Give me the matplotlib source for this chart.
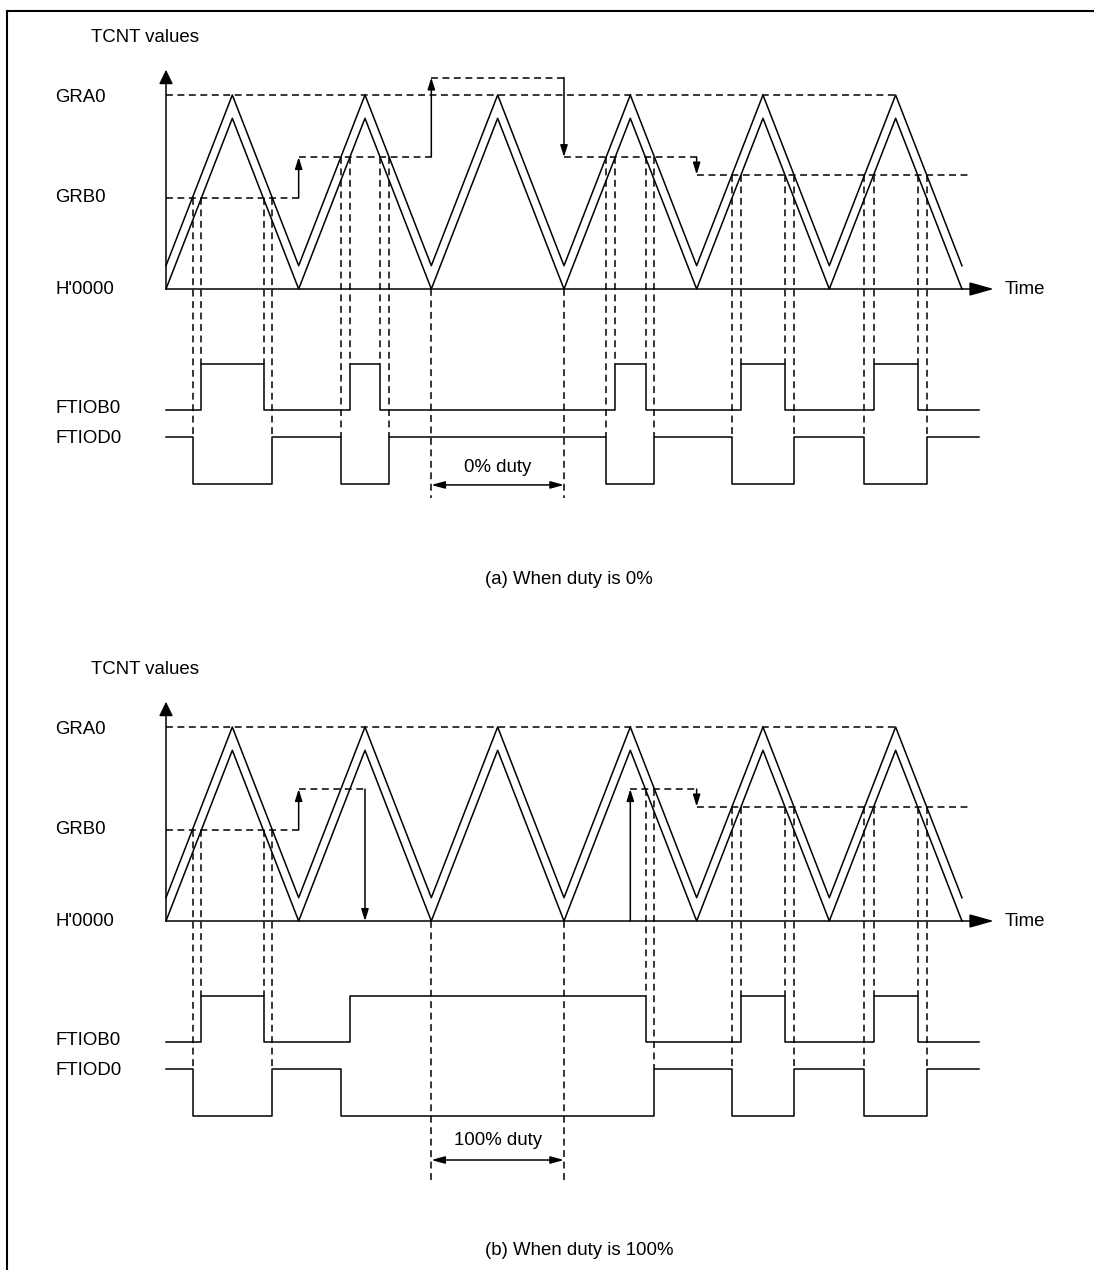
import matplotlib
matplotlib.use("Agg")
import matplotlib.pyplot as plt
from matplotlib.lines import Line2D

plt.rcParams['font.family'] = ['Liberation Sans', 'DejaVu Sans']

# ---- data (x in half periods of the counter, y in units of GRA0) ----
tcnt_x = [0, 1, 2, 3, 4, 5, 6, 7, 8, 9, 10, 11, 12]
tcnt_low = [0, 0.88, 0, 0.88, 0, 0.88, 0, 0.88, 0, 0.88, 0, 0.88, 0]
dead_time = 0.12   # offset of the second counter line
gra0 = 1.0

# GRB0 buffer steps: step start times and level of each step
grb_a_x = [0, 2, 4, 6, 8, 12.1]
grb_a_y = [0.47, 0.68, 1.09, 0.68, 0.59]
grb_b_x = [0, 2, 3, 7, 8, 12.1]
grb_b_y = [0.47, 0.68, 0.0, 0.68, 0.59]

# FTIOB0 high intervals / FTIOD0 low intervals
ftiob_a = [(0.53, 1.47), (2.77, 3.23), (6.77, 7.23), (8.67, 9.33), (10.67, 11.33)]
ftiod_a = [(0.40, 1.60), (2.64, 3.36), (6.64, 7.36), (8.53, 9.47), (10.53, 11.47)]
ftiob_b = [(0.53, 1.47), (2.77, 7.23), (8.67, 9.33), (10.67, 11.33)]
ftiod_b = [(0.40, 1.60), (2.64, 7.36), (8.53, 9.47), (10.53, 11.47)]

# edges that get a dashed guide up to the counter
guide_b_a = [0.53, 1.47, 2.77, 3.23, 6.77, 7.23, 8.67, 9.33, 10.67, 11.33]
guide_d_a = [0.40, 1.60, 2.64, 3.36, 6.64, 7.36, 8.53, 9.47, 10.53, 11.47]
guide_b_b = [0.53, 1.47, 7.23, 8.67, 9.33, 10.67, 11.33]
guide_d_b = [0.40, 1.60, 7.36, 8.53, 9.47, 10.53, 11.47]

duty_x = [4, 6]

# signal levels (below the counter)
B_HI, B_LO = -0.387, -0.624
D_HI, D_LO = -0.763, -1.005

W, H = 1094, 1270
SX, SY = 66.33, 194.0   # pixels per unit
X0 = 166                # pixel of the time origin
FS = 13.4
DASH = (0, (4.5, 3))
LW = 1.1

fig = plt.figure(figsize=(W / 100, H / 100), dpi=100)


def level_at(xs, ys, x):
    for i in range(len(ys)):
        if xs[i] <= x < xs[i + 1]:
            return ys[i]
    return ys[-1]


def square(intervals, base, pulse, x0=0, x1=12.25):
    xs, ys = [x0], [base]
    for s, e in intervals:
        xs += [s, s, e, e]
        ys += [base, pulse, pulse, base]
    xs.append(x1)
    ys.append(base)
    return xs, ys


def arrow(ax, x0, y0, x1, y1, style):
    ax.annotate('', xy=(x1, y1), xytext=(x0, y0),
                arrowprops=dict(arrowstyle=style, color='k', lw=LW,
                                mutation_scale=10, shrinkA=0, shrinkB=0))


def panel(top, bottom, zero, grb_x, grb_y, ftiob, ftiod, gb, gd,
          duty, duty_txt_y, duty_arr_y, duty_end, caption, cap_y):
    ax = fig.add_axes([0, 1 - bottom / H, 1, (bottom - top) / H])
    ax.set_xlim(-X0 / SX, (W - X0) / SX)
    ax.set_ylim((zero - bottom) / SY, (zero - top) / SY)
    ax.axis('off')

    # axes with arrows
    arrow(ax, 0, 0, 0, 1.13, '-|>,head_length=0.86,head_width=0.42')
    arrow(ax, 0, 0, 12.48, 0, '-|>,head_length=1.5,head_width=0.42')
    ax.text(12.65, 0, 'Time', fontsize=FS, va='center', ha='left')
    ax.text(-1.13, 1.294, 'TCNT values', fontsize=FS, va='center')
    ax.text(-1.67, gra0 - 0.015, 'GRA0', fontsize=FS, va='center')
    ax.text(-1.67, grb_y[0], 'GRB0', fontsize=FS, va='center')
    ax.text(-1.67, 0, "H'0000", fontsize=FS, va='center')
    ax.text(-1.67, B_LO + 0.01, 'FTIOB0', fontsize=FS, va='center')
    ax.text(-1.67, D_HI - 0.01, 'FTIOD0', fontsize=FS, va='center')

    # counter (two lines)
    ax.plot(tcnt_x, tcnt_low, color='k', lw=LW)
    ax.plot(tcnt_x, [v + dead_time for v in tcnt_low], color='k', lw=LW)

    # GRA0 level
    ax.plot([0, 11], [gra0, gra0], color='k', lw=LW, ls=DASH)

    # GRB0 steps and change arrows
    for i, lv in enumerate(grb_y):
        if lv > 0:
            ax.plot([grb_x[i], grb_x[i + 1]], [lv, lv], color='k', lw=LW, ls=DASH)
        if i > 0:
            arrow(ax, grb_x[i], grb_y[i - 1], grb_x[i], lv,
                  '-|>,head_length=0.7,head_width=0.22')

    # output waveforms
    xs, ys = square(ftiob, B_LO, B_HI)
    ax.plot(xs, ys, color='k', lw=LW)
    xs, ys = square(ftiod, D_HI, D_LO)
    ax.plot(xs, ys, color='k', lw=LW)

    # dashed guides from compare match down to the outputs
    for x in gb:
        ax.plot([x, x], [level_at(grb_x, grb_y, x), B_HI], color='k', lw=LW, ls=DASH)
    for x in gd:
        ax.plot([x, x], [level_at(grb_x, grb_y, x), D_HI], color='k', lw=LW, ls=DASH)

    # duty marker
    for x in duty_x:
        ax.plot([x, x], [0, duty_end], color='k', lw=LW, ls=DASH)
    arrow(ax, duty_x[0], duty_arr_y, duty_x[1], duty_arr_y,
          '<|-|>,head_length=0.8,head_width=0.22')
    ax.text(sum(duty_x) / 2, duty_txt_y, duty, fontsize=FS, ha='center', va='center')

    ax.text(4.81, cap_y, caption, fontsize=FS, ha='left', va='center')


panel(0, 620, 289, grb_a_x, grb_a_y, ftiob_a, ftiod_a, guide_b_a, guide_d_a,
      '0% duty', -0.918, -1.01, -1.075, '(a) When duty is 0%', -1.5)
panel(620, 1270, 921, grb_b_x, grb_b_y, ftiob_b, ftiod_b, guide_b_b, guide_d_b,
      '100% duty', -1.129, -1.232, -1.345, '(b) When duty is 100%', -1.696)

# page frame
fig.add_artist(Line2D([7 / W, 7 / W], [0, 1 - 11 / H], transform=fig.transFigure,
                      color='k', lw=1.5))
fig.add_artist(Line2D([7 / W, 1], [1 - 11 / H, 1 - 11 / H], transform=fig.transFigure,
                      color='k', lw=1.5))

fig.savefig('out.png', dpi=100)
